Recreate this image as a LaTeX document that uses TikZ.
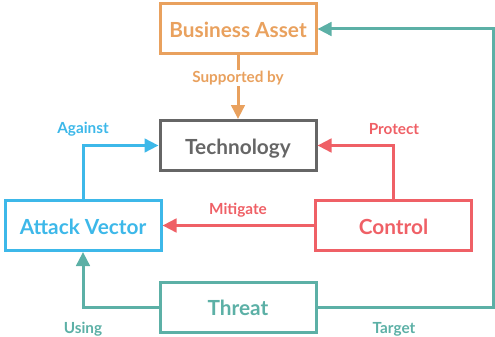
\documentclass[tikz,border=0pt]{standalone}
\usepackage{fontspec}
\setmainfont{Lato}
\usetikzlibrary{arrows.meta}
\definecolor{assetc}{HTML}{E9A15E}
\definecolor{techc}{HTML}{666666}
\definecolor{vecc}{HTML}{3DB8E9}
\definecolor{ctrlc}{HTML}{EF6066}
\definecolor{threatc}{HTML}{5CB0A6}
\begin{document}
\begin{tikzpicture}[x=1pt,y=-1pt,
  box/.style={draw=#1, text=#1, line width=3pt, minimum width=156pt, minimum height=50pt,
    inner sep=0pt, text height=17pt, text depth=0pt,
    font=\fontsize{20.8}{24}\selectfont\bfseries},
  link/.style={draw=#1, line width=3pt, -{Triangle[length=14pt,width=13.5pt]}},
  lab/.style={text=#1, font=\fontsize{15.3}{18}\selectfont\bfseries, inner sep=1.5pt}]
\useasboundingbox (0,0) rectangle (495,337);
\node[box=assetc] (asset) at (238,29) {Business Asset};
\node[box=techc] (tech) at (238,145.5) {Technology};
\node[box=vecc] (vec) at (83,225.5) {Attack Vector};
\node[box=ctrlc] (ctrl) at (393.5,225.5) {Control};
\node[box=threatc] (threat) at (238,307) {Threat};
\coordinate (tgt) at (493,307);
% edge labels
\node[lab=vecc] (lag) at (83,129) {Against};
\node[lab=ctrlc] (lpro) at (394,129) {Protect};
\node[lab=ctrlc] (lmit) at (238,210) {Mitigate};
\node[lab=threatc] (luse) at (83,329) {Using};
\node[lab=threatc] (ltar) at (394,329) {Target};
% connectors
\draw[link=assetc] (asset.south) -- (tech.north);
\node[lab=assetc, fill=white] (lsup) at (238,78) {Supported by};
\draw[link=vecc] (vec.north) |- (tech.west);
\draw[link=ctrlc] (ctrl.north) |- (tech.east);
\draw[link=ctrlc] (ctrl.west) -- (vec.east);
\draw[link=threatc] (threat.west) -| (vec.south);
\draw[link=threatc] (threat.east) -- (tgt) |- (asset.east);
\end{tikzpicture}
\end{document}
